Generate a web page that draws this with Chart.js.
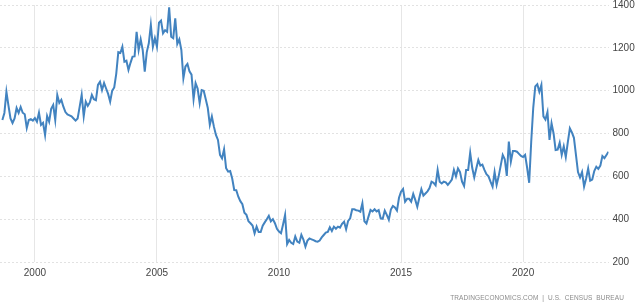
<!DOCTYPE html>
<html>
<head>
<meta charset="utf-8">
<script src="https://cdn.jsdelivr.net/npm/chart.js@4.4.0/dist/chart.umd.min.js"></script>
<style>
  html, body { margin: 0; padding: 0; background: #fff; }
  #wrap { position: relative; width: 640px; height: 304px; }
  #source {
    position: absolute; right: 16px; bottom: 3px;
    font: 6.5px "Liberation Sans", Arial, sans-serif; letter-spacing: 0.1px;
    color: #8c8c8c; white-space: pre;
  }
</style>
</head>
<body>
<div id="wrap">
  <canvas id="chart" width="640" height="304"></canvas>
  <div id="source">TRADINGECONOMICS.COM  |  U.S.  CENSUS  BUREAU</div>
</div>
<script>
// US new home sales, thousands, monthly from Sep 1998 to Jul 2023
const START_YEAR = 1998, START_MONTH = 9;
const sales1998_2002 = [863, 896, 995, 930, 870, 849, 870, 919, 896, 924, 897, 890, 826, 863, 867, 860,
  872, 855, 897, 840, 850, 793, 882, 855, 915, 933, 863, 980,
  943, 957, 925, 900, 889, 885, 880, 870, 860, 870, 924, 980,
  880, 949, 929, 945, 980, 960, 955, 1027, 1042, 1003, 1036, 1010];
const sales2003_2007 = [985, 949, 1000, 1015, 1080, 1180, 1176, 1205, 1135, 1140, 1097, 1130,
  1159, 1160, 1275, 1190, 1240, 1190, 1089, 1180, 1221, 1307, 1205, 1245,
  1205, 1317, 1327, 1268, 1282, 1275, 1389, 1252, 1245, 1338, 1218, 1240,
  1190, 1058, 1113, 1125, 1090, 1075, 960, 1035, 1010, 942, 1003, 1000,
  960, 919, 840, 880, 832, 793, 770, 700, 684, 726, 638, 622];
const sales2008_2012 = [625, 590, 536, 535, 505, 484, 470, 430, 420, 390, 381, 370,
  334, 365, 340, 340, 370, 385, 400, 416, 390, 400, 381, 355,
  342, 334, 375, 420, 284, 303, 290, 284, 319, 295, 290, 327,
  305, 272, 300, 310, 306, 302, 297, 295, 300, 315, 326, 337,
  340, 362, 345, 365, 355, 365, 360, 378, 388, 353, 392, 404];
const sales2013_2017 = [446, 446, 442, 440, 435, 474, 390, 380, 412, 443, 436, 446,
  436, 442, 404, 402, 440, 420, 397, 445, 462, 455, 440, 500,
  528, 541, 482, 495, 495, 482, 518, 490, 458, 500, 540, 510,
  520, 530, 545, 575, 570, 558, 630, 575, 567, 575, 572, 560,
  572, 585, 630, 600, 637, 620, 575, 555, 630, 630, 710, 640];
const sales2018_2023 = [595, 637, 676, 650, 655, 630, 610, 600, 575, 552, 620, 560,
  600, 650, 700, 680, 602, 762, 669, 718, 718, 715, 705, 695,
  690, 700, 640, 570, 760, 920, 1020, 1030, 995, 1027, 880, 865,
  900, 770, 848, 800, 723, 725, 757, 700, 740, 690, 760, 824,
  805, 780, 700, 620, 595, 620, 552, 590, 637, 580, 585, 625,
  645, 635, 650, 695, 685, 700, 715];
const yearTicks = [2000, 2005, 2010, 2015, 2020];
const valueTicks = [200, 400, 600, 800, 1000, 1200, 1400];

const sales = [].concat(sales1998_2002, sales2003_2007, sales2008_2012, sales2013_2017, sales2018_2023);
const points = sales.map((v, i) => ({ x: START_YEAR + (START_MONTH - 1 + i) / 12, y: v }));

const FONT = { family: '"Liberation Sans", Arial, sans-serif', size: 10 };

new Chart(document.getElementById('chart'), {
  type: 'line',
  data: {
    datasets: [{
      data: points,
      borderColor: '#4283c0', borderWidth: 2,
      pointRadius: 0, tension: 0, fill: false
    }]
  },
  options: {
    responsive: false, animation: false,
    layout: { padding: { top: 0, left: 0, right: 0, bottom: 0 } },
    plugins: { legend: { display: false }, tooltip: { enabled: false } },
    scales: {
      x: {
        type: 'linear', min: 1998.57, max: 2023.5,
        afterBuildTicks: s => { s.ticks = yearTicks.map(v => ({ value: v })); },
        afterFit: s => { s.height = 42; },
        ticks: { color: '#444', font: FONT, padding: 5, maxRotation: 0, callback: v => String(v) },
        grid: { color: '#e6e6e6', drawTicks: false },
        border: { display: false }
      },
      y: {
        position: 'right', min: 200, max: 1400,
        afterBuildTicks: s => { s.ticks = valueTicks.map(v => ({ value: v })); },
        afterFit: s => { s.width = 31.5; s.paddingTop = 5; s.paddingBottom = 0; },
        ticks: { color: '#444', font: FONT, padding: 4, callback: v => String(v) },
        grid: { color: '#e2e2e2', drawTicks: false },
        border: { display: false, dash: [2, 2] }
      }
    }
  }
});
</script>
</body>
</html>
